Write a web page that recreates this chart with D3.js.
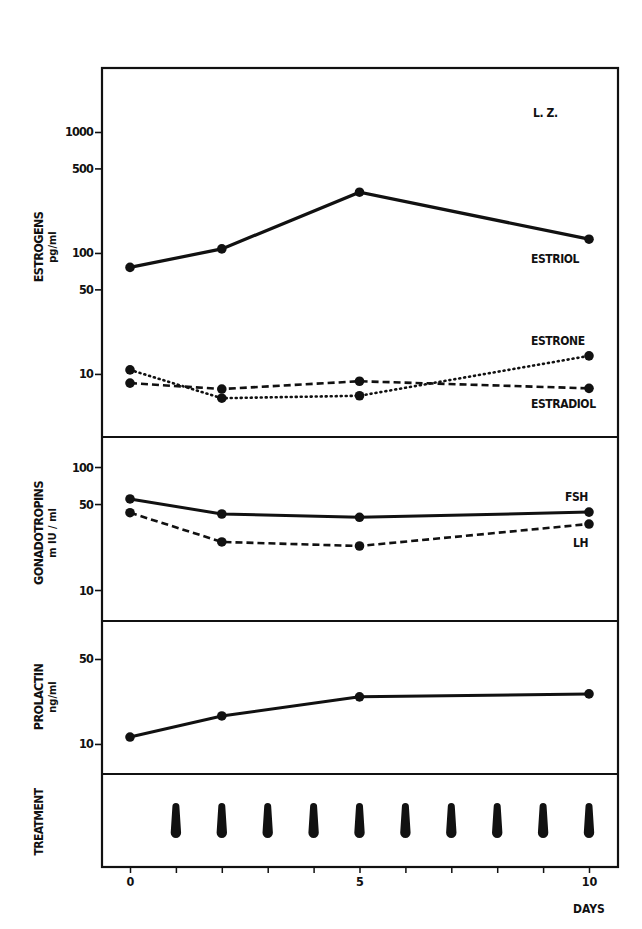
<!DOCTYPE html>
<html>
<head>
<meta charset="utf-8">
<script src="https://cdn.jsdelivr.net/npm/d3@7"></script>
<style>
  html, body { margin: 0; padding: 0; background: #fff; }
  svg { display: block; }
  text { font-family: "DejaVu Sans Condensed", "DejaVu Sans", sans-serif; font-weight: bold; fill: #111; }
</style>
</head>
<body>
<svg id="chart"></svg>
<script>
// sampling days
const days = [0, 2, 5, 10];
const treatmentDays = [1, 2, 3, 4, 5, 6, 7, 8, 9, 10];

// estrogens, pg/ml
const estriol = [76, 108, 318, 130];
const estrone = [10.8, 6.3, 6.6, 14.1];
const estradiol = [8.4, 7.5, 8.7, 7.6];

// gonadotropins, mIU/ml
const fsh = [55, 41.5, 39, 43];
const lh = [42.5, 24.6, 22.8, 34.4];

// prolactin, ng/ml
const prolactin = [11.4, 17, 24.4, 25.8];

const estrogenTicks = [10, 50, 100, 500, 1000];
const gonadTicks = [10, 50, 100];
const prolactinTicks = [10, 50];
const dayTicks = [0, 1, 2, 3, 4, 5, 6, 7, 8, 9, 10];
const dayLabels = [0, 5, 10];

const width = 642, height = 929;
const frameLeft = 102, frameRight = 618;
// panel edges top to bottom
const panels = [68, 437, 621, 774, 867];

const svg = d3.select("#chart").attr("width", width).attr("height", height);

const x = d3.scaleLinear().domain([0, 10]).range([130, 589]);

const yEstro = d3.scaleLog().domain([3.01, 3381]).range([panels[1], panels[0]]);
const yGonad = d3.scaleLog().domain([5.6, 175.4]).range([panels[2], panels[1]]);
const yProl = d3.scaleLog().domain([5.66, 102.7]).range([panels[3], panels[2]]);

// frame
svg.append("rect")
    .attr("x", frameLeft).attr("y", panels[0])
    .attr("width", frameRight - frameLeft).attr("height", panels[4] - panels[0])
    .attr("fill", "none").attr("stroke", "#111").attr("stroke-width", 2.2);

panels.slice(1, 4).forEach((py) => {
    svg.append("line")
        .attr("x1", frameLeft).attr("x2", frameRight)
        .attr("y1", py).attr("y2", py)
        .attr("stroke", "#111").attr("stroke-width", 2.2);
});

function leftAxis(scale, ticks) {
    const g = svg.append("g")
        .attr("transform", `translate(${frameLeft},0)`)
        .call(d3.axisLeft(scale).tickValues(ticks).tickFormat(d3.format("d")).tickSize(7).tickPadding(2));
    g.select(".domain").remove();
    g.selectAll("line").attr("stroke", "#111").attr("stroke-width", 1.6);
    g.selectAll("text").attr("font-size", 12.5).attr("font-family", null).attr("letter-spacing", -0.8);
}
leftAxis(yEstro, estrogenTicks);
leftAxis(yGonad, gonadTicks);
leftAxis(yProl, prolactinTicks);

// bottom axis
const xAxisG = svg.append("g")
    .attr("transform", `translate(0,${panels[4]})`)
    .call(d3.axisBottom(x).tickValues(dayTicks).tickSize(6).tickPadding(4)
        .tickFormat((d) => (dayLabels.includes(d) ? d : "")));
xAxisG.select(".domain").remove();
xAxisG.selectAll("line").attr("stroke", "#111").attr("stroke-width", 1.5);
xAxisG.selectAll("text").attr("font-size", 12.5).attr("font-family", null);

svg.append("text").attr("x", 589).attr("y", 913).attr("text-anchor", "middle")
    .attr("font-size", 12).text("DAYS");

// y titles
function yTitle(cy, main, unit, size) {
    const g = svg.append("g").attr("transform", `translate(0,${cy}) rotate(-90)`);
    g.append("text").attr("x", 0).attr("y", 43).attr("text-anchor", "middle")
        .attr("font-size", size).attr("letter-spacing", -0.6).text(main);
    if (unit) {
        g.append("text").attr("x", 0).attr("y", 56).attr("text-anchor", "middle")
            .attr("font-size", 11).attr("font-weight", "normal").text(unit);
    }
}
yTitle(247, "ESTROGENS", "pg/ml", 12.5);
yTitle(533, "GONADOTROPINS", "m IU / ml", 12.5);
yTitle(697, "PROLACTIN", "ng/ml", 12.5);
yTitle(822, "TREATMENT", null, 12);

// series
function series(values, scale, dash, lw) {
    const pts = days.map((d, i) => [x(d), scale(values[i])]);
    svg.append("path")
        .attr("d", d3.line()(pts))
        .attr("fill", "none").attr("stroke", "#111")
        .attr("stroke-width", lw)
        .attr("stroke-linecap", dash === "1 4" ? "round" : "butt")
        .attr("stroke-dasharray", dash);
    svg.append("g").selectAll("circle").data(pts).join("circle")
        .attr("cx", (d) => d[0]).attr("cy", (d) => d[1]).attr("r", 4.8).attr("fill", "#111");
}
series(estriol, yEstro, null, 3.2);
series(estrone, yEstro, "1 4", 2.6);
series(estradiol, yEstro, "7 4", 2.6);
series(fsh, yGonad, null, 3);
series(lh, yGonad, "7 4", 2.6);
series(prolactin, yProl, null, 3);

// curve labels
const labels = [
    { t: "L. Z.", x: 533, y: 117 },
    { t: "ESTRIOL", x: 531, y: 263 },
    { t: "ESTRONE", x: 531, y: 345 },
    { t: "ESTRADIOL", x: 531, y: 408 },
    { t: "FSH", x: 565, y: 501 },
    { t: "LH", x: 573, y: 547 }
];
svg.append("g").selectAll("text").data(labels).join("text")
    .attr("x", (d) => d.x).attr("y", (d) => d.y)
    .attr("font-size", 12).attr("letter-spacing", -0.4).text((d) => d.t);

// treatment drops: narrow rounded top, wider rounded bottom
const dropTop = 803, dropBottom = 838, rTop = 3.5, rBottom = 5.2;
function dropPath(cx) {
    const p = d3.path();
    p.moveTo(cx - rTop, dropTop + rTop);
    p.arc(cx, dropTop + rTop, rTop, Math.PI, 0);
    p.lineTo(cx + rBottom, dropBottom - rBottom);
    p.arc(cx, dropBottom - rBottom, rBottom, 0, Math.PI);
    p.closePath();
    return p.toString();
}
svg.append("g").selectAll("path").data(treatmentDays).join("path")
    .attr("d", (d) => dropPath(x(d)))
    .attr("fill", "#111");
</script>
</body>
</html>
